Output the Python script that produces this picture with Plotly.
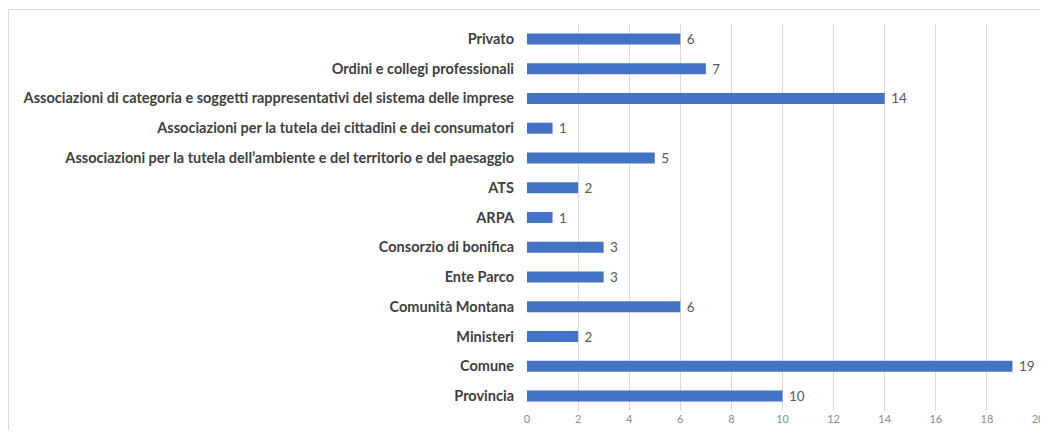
import plotly.graph_objects as go

categories = [
    "Provincia",
    "Comune",
    "Ministeri",
    "Comunità Montana",
    "Ente Parco",
    "Consorzio di bonifica",
    "ARPA",
    "ATS",
    "Associazioni per la tutela dell’ambiente e del territorio e del paesaggio",
    "Associazioni per la tutela dei cittadini e dei consumatori",
    "Associazioni di categoria e soggetti rappresentativi del sistema delle imprese",
    "Ordini e collegi professionali",
    "Privato",
]
values = [10, 19, 2, 6, 3, 3, 1, 2, 5, 1, 14, 7, 6]
x_ticks = list(range(0, 21, 2))

W, H = 1040, 422
L, R, T, B = 519, 10, 16, 19
pw, ph = W - L - R, H - T - B

fig = go.Figure(
    go.Bar(
        x=values,
        y=categories,
        orientation="h",
        marker=dict(color="#4472C4", line=dict(width=0)),
        text=[f" {v}" for v in values],
        textposition="outside",
        constraintext="none",
        textfont=dict(family="Lato", size=13.5, color="#595959"),
        cliponaxis=False,
        width=0.37,
    )
)

fig.update_layout(
    width=W,
    height=H,
    margin=dict(l=L, r=R, t=T, b=B),
    paper_bgcolor="white",
    plot_bgcolor="white",
    showlegend=False,
    xaxis=dict(
        range=[0, 20],
        tickvals=x_ticks,
        showgrid=True,
        gridcolor="#d9d9d9",
        gridwidth=1,
        zeroline=False,
        showline=False,
        tickfont=dict(family="Lato", size=11, color="#8c8c8c"),
        ticks="",
        automargin=False,
        ticklabeloverflow="allow",
    ),
    yaxis=dict(
        categoryorder="array",
        categoryarray=categories,
        range=[-0.5, 12.5],
        showgrid=False,
        zeroline=False,
        showline=False,
        ticks="",
        ticklabelstandoff=12,
        automargin=False,
        tickfont=dict(family="Lato", size=14.5, color="#404040", weight="bold"),
    ),
    shapes=[
        dict(
            type="rect",
            xref="paper",
            yref="paper",
            x0=(0.5 - L) / pw,
            x1=1.2,
            y0=-0.3,
            y1=1 + (T - 1.5) / ph,
            line=dict(color="#d9d9d9", width=1),
            layer="below",
        )
    ],
)

fig.write_html("out.html")
